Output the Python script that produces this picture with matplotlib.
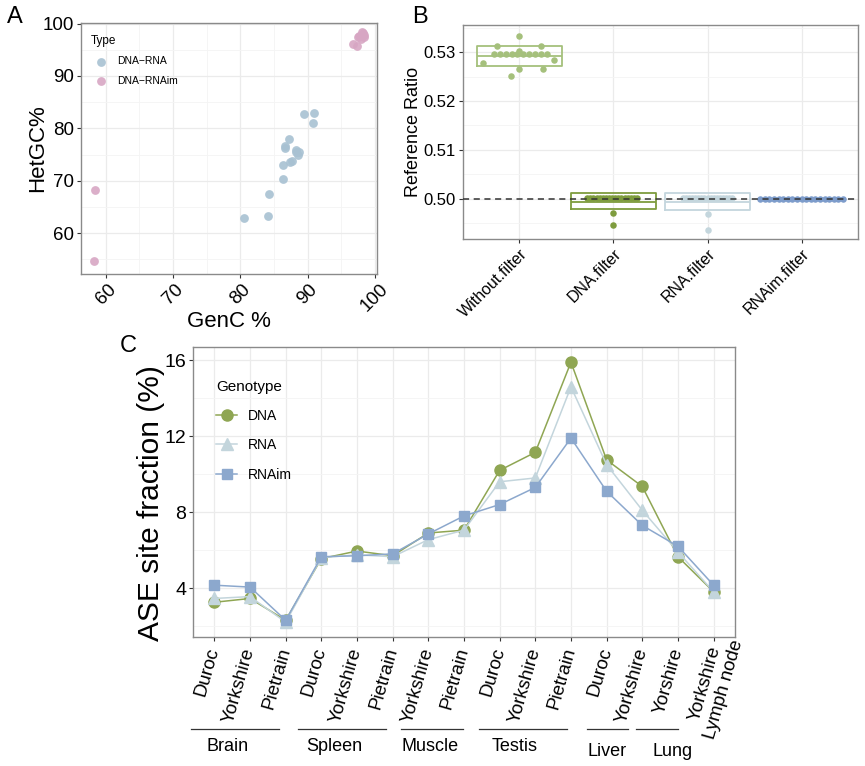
import numpy as np
import matplotlib
matplotlib.use("Agg")
import matplotlib.pyplot as plt
import matplotlib.transforms as mtransforms
from matplotlib.ticker import MultipleLocator, FormatStrFormatter

plt.rcParams["font.family"] = ["Liberation Sans", "DejaVu Sans"]

# ---- panel A: concordance between genotype calls
A_DNA_RNA_GENC = [80.6, 84.1, 84.2, 86.4, 86.4, 86.7, 86.7, 87.2, 87.3, 87.7,
                  88.2, 88.5, 88.2, 88.7, 89.5, 90.8, 91.0]
A_DNA_RNA_HETGC = [62.9, 63.2, 67.4, 70.3, 73.0, 76.2, 76.6, 77.9, 73.5, 73.7,
                   75.4, 74.9, 75.9, 75.4, 82.8, 81.1, 83.0]
A_DNA_RNAIM_GENC = [58.4, 58.3, 96.8, 97.3, 97.5, 98.0, 98.2, 98.3, 97.9, 98.4,
                    98.1, 97.7]
A_DNA_RNAIM_HETGC = [68.2, 54.6, 96.0, 95.7, 97.5, 97.8, 98.1, 97.5, 97.1, 97.9,
                     98.3, 97.6]

# ---- panel B: reference allele ratio
B_GROUPS = ["Without.filter", "DNA.filter", "RNA.filter", "RNAim.filter"]
B_NOFILT = [0.5334, 0.5313, 0.5313, 0.5303] + [0.5296] * 10 + \
           [0.5284, 0.5279, 0.5265, 0.5265, 0.5251]
B_DNA = [0.5002] * 17 + [0.4970, 0.4946]
B_RNA = [0.5002] * 17 + [0.4968, 0.4936]
B_RNAIM = [0.5000] * 19
B_Q1 = [0.5272, 0.4979, 0.4977, 0.5000]
B_MED = [0.5292, 0.4994, 0.4993, 0.5000]
B_Q3 = [0.5313, 0.5011, 0.5012, 0.5000]

# ---- panel C: ASE site fraction per tissue/breed
C_LABELS = ["Duroc", "Yorkshire", "Pietrain", "Duroc", "Yorkshire", "Pietrain",
            "Yorkshire", "Pietrain", "Duroc", "Yorkshire", "Pietrain", "Duroc",
            "Yorkshire", "Yorshire", "Yorkshire\nLymph node"]
C_DNA = [3.25, 3.45, 2.3, 5.55, 5.95, 5.7, 6.9, 7.05, 10.2, 11.15, 15.9, 10.75,
         9.35, 5.65, 3.8]
C_RNA = [3.45, 3.55, 2.2, 5.6, 5.75, 5.65, 6.55, 7.05, 9.6, 9.8, 14.6, 10.5,
         8.1, 5.9, 3.8]
C_RNAIM = [4.15, 4.05, 2.3, 5.65, 5.7, 5.8, 6.85, 7.8, 8.4, 9.3, 11.9, 9.1,
           7.3, 6.2, 4.15]
C_TISSUES = ["Brain", "Spleen", "Muscle", "Testis", "Liver", "Lung"]
C_TISSUE_N = [3, 3, 2, 3, 2, 1]

GRID_MAJ = "#EBEBEB"
GRID_MIN = "#F4F4F4"
BORDER = "#8A8A8A"


def style_axes(ax):
    for s in ax.spines.values():
        s.set_color(BORDER)
        s.set_linewidth(1.0)
    ax.grid(which="major", color=GRID_MAJ, lw=0.9, zorder=0)
    ax.grid(which="minor", color=GRID_MIN, lw=0.6, zorder=0)
    ax.set_axisbelow(True)
    ax.tick_params(which="major", length=3, width=0.8, color="#333333", pad=2)
    ax.tick_params(which="minor", length=0)


fig = plt.figure(figsize=(8.65, 7.66), dpi=100)

# ================= A
axA = fig.add_axes([0.0936, 0.6423, 0.3422, 0.3277])
style_axes(axA)
axA.scatter(A_DNA_RNA_GENC, A_DNA_RNA_HETGC, s=40, color="#A8C1D2", alpha=0.9,
            lw=0, label="DNA\u2212RNA", zorder=3)
axA.scatter(A_DNA_RNAIM_GENC, A_DNA_RNAIM_HETGC, s=40, color="#D7A6C3", alpha=0.9,
            lw=0, label="DNA\u2212RNAim", zorder=3)
axA.set_xlim(56.3, 100.3)
axA.set_ylim(52.2, 100.1)
axA.xaxis.set_major_locator(MultipleLocator(10))
axA.xaxis.set_minor_locator(MultipleLocator(5))
axA.yaxis.set_major_locator(MultipleLocator(10))
axA.yaxis.set_minor_locator(MultipleLocator(5))
axA.tick_params(axis="both", labelsize=13.5)
plt.setp(axA.get_xticklabels(), rotation=45, ha="center", va="top")
axA.set_xlabel("GenC %", fontsize=16, labelpad=-3)
axA.set_ylabel("HetGC%", fontsize=16)
axA.yaxis.set_label_coords(-0.112, 0.5)
legA = axA.legend(title="Type", loc="upper left", bbox_to_anchor=(0.0, 0.99),
                  frameon=False, fontsize=7.5, title_fontsize=8.5,
                  labelspacing=0.9, handletextpad=0.6, markerscale=1.0)
legA._legend_box.align = "left"

# ================= B
axB = fig.add_axes([0.5353, 0.6880, 0.4566, 0.2794])
style_axes(axB)
b_colors = ["#A5C07C", "#7E9C3E", "#C4D6DD", "#7D9CCB"]
b_values = [B_NOFILT, B_DNA, B_RNA, B_RNAIM]

# horizontal placement of the dots as seen in the original dot plot
row_nf = list(np.linspace(-0.27, 0.29, 10))
b_dx = [
    [0, -0.24, 0.23, 0] + row_nf + [0.37, -0.39, 0, 0.25, -0.09],
    list(np.linspace(-0.28, 0.25, 17)) + [0, 0],
    list(np.linspace(-0.26, 0.26, 17)) + [0, 0],
    list(np.linspace(-0.44, 0.44, 19)),
]

stats = []
for i in range(len(B_GROUPS)):
    stats.append(dict(med=B_MED[i], q1=B_Q1[i], q3=B_Q3[i],
                      whislo=B_Q1[i], whishi=B_Q3[i], fliers=[]))
bp = axB.bxp(stats, positions=range(len(B_GROUPS)), widths=0.9,
             showfliers=False, showcaps=False, manage_ticks=False)
for i, c in enumerate(b_colors):
    bp["boxes"][i].set(color=c, lw=1.3, zorder=2)
    bp["medians"][i].set(color=c, lw=1.3, zorder=2)
for w in bp["whiskers"]:
    w.set_visible(False)

for i, (vals, dx) in enumerate(zip(b_values, b_dx)):
    axB.scatter(np.array(dx) + i, vals, s=22, color=b_colors[i], lw=0, zorder=3)

axB.axhline(0.5, color="#333333", lw=1.1, ls=(0, (4, 3)), zorder=4)
axB.set_xlim(-0.6, 3.6)
axB.set_ylim(0.49174, 0.5356)
axB.set_xticks(range(len(B_GROUPS)))
axB.set_xticklabels(B_GROUPS, rotation=45, ha="right", va="top",
                    rotation_mode="anchor", fontsize=11.5)
axB.yaxis.set_major_locator(MultipleLocator(0.01))
axB.yaxis.set_minor_locator(MultipleLocator(0.005))
axB.yaxis.set_major_formatter(FormatStrFormatter("%.2f"))
axB.tick_params(axis="y", labelsize=12)
axB.set_ylabel("Reference Ratio", fontsize=13, labelpad=1)

# ================= C
axC = fig.add_axes([0.2231, 0.1684, 0.6266, 0.3786])
style_axes(axC)
xc = np.arange(len(C_LABELS))
axC.plot(xc, C_DNA, color="#8FA653", lw=1.1, marker="o", ms=8, label="DNA", zorder=3)
axC.plot(xc, C_RNA, color="#C3D5DC", lw=1.1, marker="^", ms=8.5, label="RNA", zorder=4)
axC.plot(xc, C_RNAIM, color="#8CA8CD", lw=1.1, marker="s", ms=7.5, label="RNAim", zorder=5)
axC.set_xlim(-0.6, 14.6)
axC.set_ylim(1.42, 16.7)
axC.yaxis.set_major_locator(MultipleLocator(4))
axC.yaxis.set_minor_locator(MultipleLocator(2))
axC.tick_params(axis="y", labelsize=14)
axC.set_xticks(xc)
axC.set_xticklabels(C_LABELS, rotation=74, ha="right", va="center",
                    rotation_mode="anchor", fontsize=13.5)
axC.tick_params(axis="x", pad=5)
last = axC.get_xticklabels()[-1]
last.set_multialignment("center")
last.set_transform(last.get_transform() +
                   mtransforms.ScaledTranslation(0.15, 0.11, fig.dpi_scale_trans))
axC.set_ylabel("ASE site fraction (%)", fontsize=21.5)
axC.yaxis.set_label_coords(-0.052, 0.462)
legC = axC.legend(title="Genotype", loc="upper left", bbox_to_anchor=(0.02, 0.93),
                  frameon=False, fontsize=10, title_fontsize=11,
                  labelspacing=1.1, handlelength=1.5, handletextpad=0.8)
legC._legend_box.align = "left"

# tissue brackets under the breed labels
trans = mtransforms.blended_transform_factory(axC.transData, axC.transAxes)
span = [(-0.65, -0.2), (-0.65, -0.2), (-0.76, -0.03), (-0.58, -0.11),
        (-0.55, -0.4), (-1.17, 0.0)]
text_dx = [0.36, 0.36, 0.05, 0.42, 0.0, -0.14]
text_y = [-0.376, -0.376, -0.376, -0.376, -0.396, -0.396]
start = 0
for k, (name, n) in enumerate(zip(C_TISSUES, C_TISSUE_N)):
    first, last_i = start, start + n - 1
    axC.plot([first + span[k][0], last_i + span[k][1]], [-0.317, -0.317],
             color="#333333", lw=0.9, transform=trans, clip_on=False)
    axC.text(first + text_dx[k], text_y[k], name, transform=trans,
             ha="center", va="center", fontsize=13)
    start += n

fig.text(0.008, 0.992, "A", fontsize=17, va="top", ha="left")
fig.text(0.477, 0.992, "B", fontsize=17, va="top", ha="left")
fig.text(0.138, 0.563, "C", fontsize=17, va="top", ha="left")

fig.savefig("out.png", dpi=100)
